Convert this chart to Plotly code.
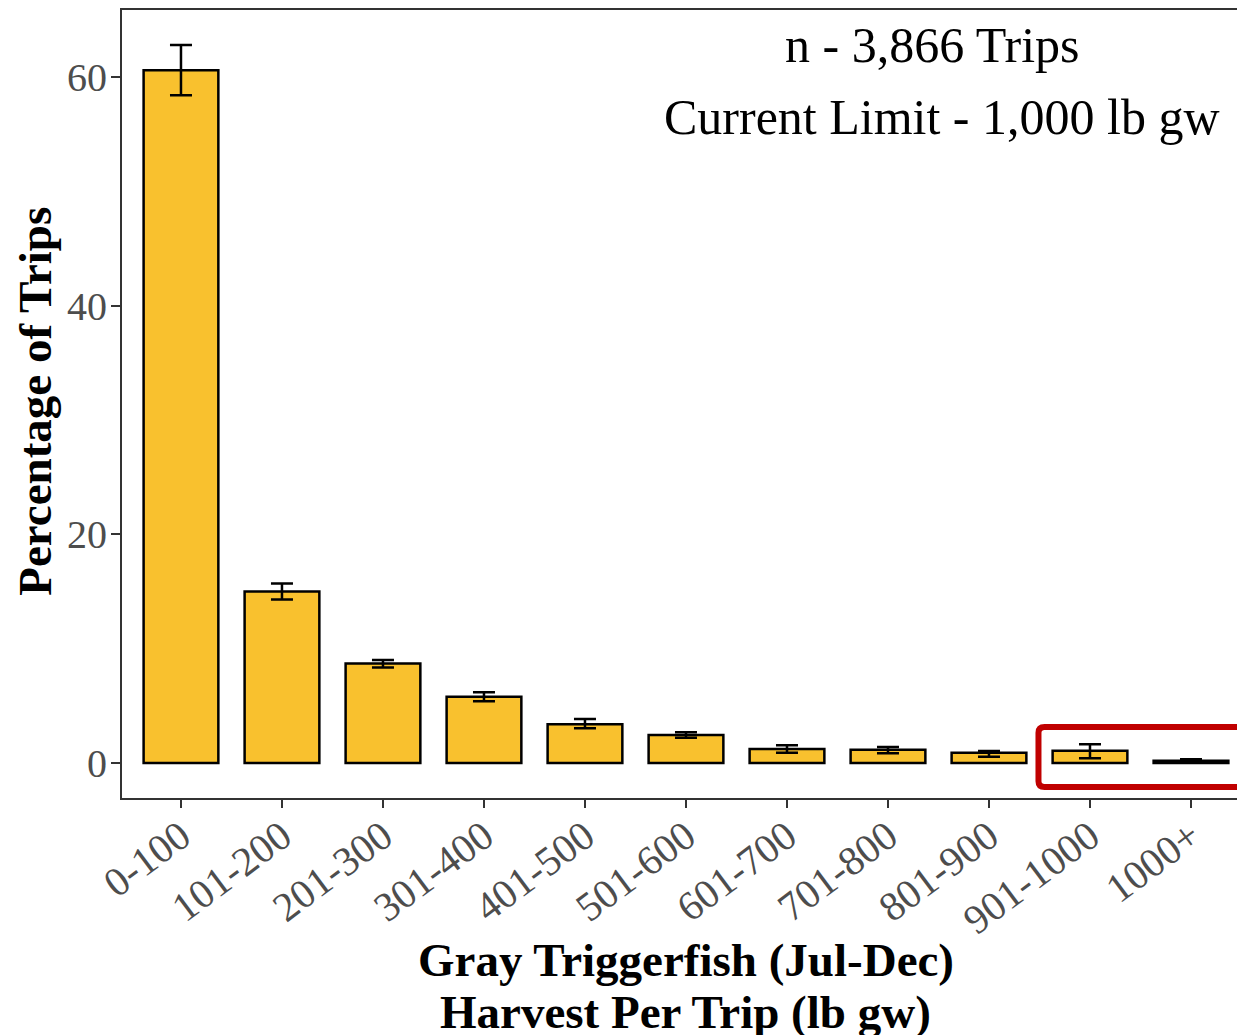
import plotly.graph_objects as go

# harvest bins (lb gw)
categories = ["0-100", "101-200", "201-300", "301-400", "401-500", "501-600",
              "601-700", "701-800", "801-900", "901-1000", "1000+"]
pct_trips = [60.6, 15.0, 8.7, 5.8, 3.4, 2.45, 1.22, 1.15, 0.9, 1.08, 0.2]
err_upper = [62.8, 15.7, 9.0, 6.2, 3.85, 2.7, 1.55, 1.4, 1.05, 1.65, 0.33]
err_lower = [58.4, 14.3, 8.35, 5.4, 3.05, 2.2, 0.9, 0.85, 0.55, 0.42, 0.1]
y_ticks = [0, 20, 40, 60]

SERIF = "Liberation Serif, Times New Roman, serif"

x_idx = list(range(len(categories)))

fig = go.Figure()

fig.add_trace(go.Bar(
    x=x_idx,
    y=pct_trips,
    width=0.74,
    marker=dict(color="#F9C12E", line=dict(color="black", width=2.5)),
    error_y=dict(
        type="data",
        symmetric=False,
        array=[u - v for u, v in zip(err_upper, pct_trips)],
        arrayminus=[v - l for v, l in zip(pct_trips, err_lower)],
        color="black",
        thickness=2.5,
        width=11,
    ),
    showlegend=False,
))

# highlight box around the last two bins (slightly rounded corners)
x0, x1, y0, y1 = 8.49, 10.51, -2.1, 3.15
rx, ry = 0.06, 0.5
box_path = (
    f"M {x0 + rx},{y0} L {x1 - rx},{y0} Q {x1},{y0} {x1},{y0 + ry} "
    f"L {x1},{y1 - ry} Q {x1},{y1} {x1 - rx},{y1} "
    f"L {x0 + rx},{y1} Q {x0},{y1} {x0},{y1 - ry} "
    f"L {x0},{y0 + ry} Q {x0},{y0} {x0 + rx},{y0} Z"
)
fig.add_shape(type="path", xref="x", yref="y", path=box_path,
              line=dict(color="#C00000", width=6))

fig.add_annotation(
    x=7.445, y=62.8, xref="x", yref="y",
    text="n - 3,866 Trips", showarrow=False,
    font=dict(family=SERIF, size=50, color="black"),
    xanchor="center", yanchor="middle",
)
fig.add_annotation(
    x=10.31, y=56.5, xref="x", yref="y",
    text="Current Limit - 1,000 lb gw", showarrow=False,
    font=dict(family=SERIF, size=50, color="black"),
    xanchor="right", yanchor="middle",
)

# axis titles
fig.add_annotation(
    x=5.0, y=-0.2056, xref="x", yref="paper",
    text="<b>Gray Triggerfish (Jul-Dec)</b>", showarrow=False,
    font=dict(family=SERIF, size=47, color="black"),
    xanchor="center", yanchor="middle",
)
fig.add_annotation(
    x=5.0, y=-0.2716, xref="x", yref="paper",
    text="<b>Harvest Per Trip (lb gw)</b>", showarrow=False,
    font=dict(family=SERIF, size=47, color="black"),
    xanchor="center", yanchor="middle",
)
fig.add_annotation(
    x=-0.0769, y=31.6, xref="paper", yref="y",
    text="<b>Percentage of Trips</b>", showarrow=False, textangle=-90,
    font=dict(family=SERIF, size=47, color="black"),
    xanchor="center", yanchor="middle",
)

fig.update_layout(
    width=1245,
    height=1027,
    margin=dict(l=114, r=0, t=2, b=237),
    plot_bgcolor="white",
    paper_bgcolor="white",
    font=dict(family=SERIF),
    xaxis=dict(
        range=[-0.584, 10.614],
        tickmode="array",
        tickvals=x_idx,
        ticktext=categories,
        tickangle=-37,
        tickfont=dict(family=SERIF, size=41, color="#4D4D4D"),
        ticks="outside", ticklen=8, tickwidth=2, tickcolor="#333333",
        ticklabelstandoff=-12,
        showline=True, linecolor="#333333", linewidth=2, mirror=True,
        showgrid=False, zeroline=False,
    ),
    yaxis=dict(
        range=[-3.06, 65.86],
        tickmode="array",
        tickvals=y_ticks,
        tickfont=dict(family=SERIF, size=40, color="#4D4D4D"),
        ticks="outside", ticklen=9, tickwidth=2, tickcolor="#333333",
        ticklabelstandoff=-4,
        showline=True, linecolor="#333333", linewidth=2,
        showgrid=False, zeroline=False,
    ),
)

fig.write_html("out.html")
